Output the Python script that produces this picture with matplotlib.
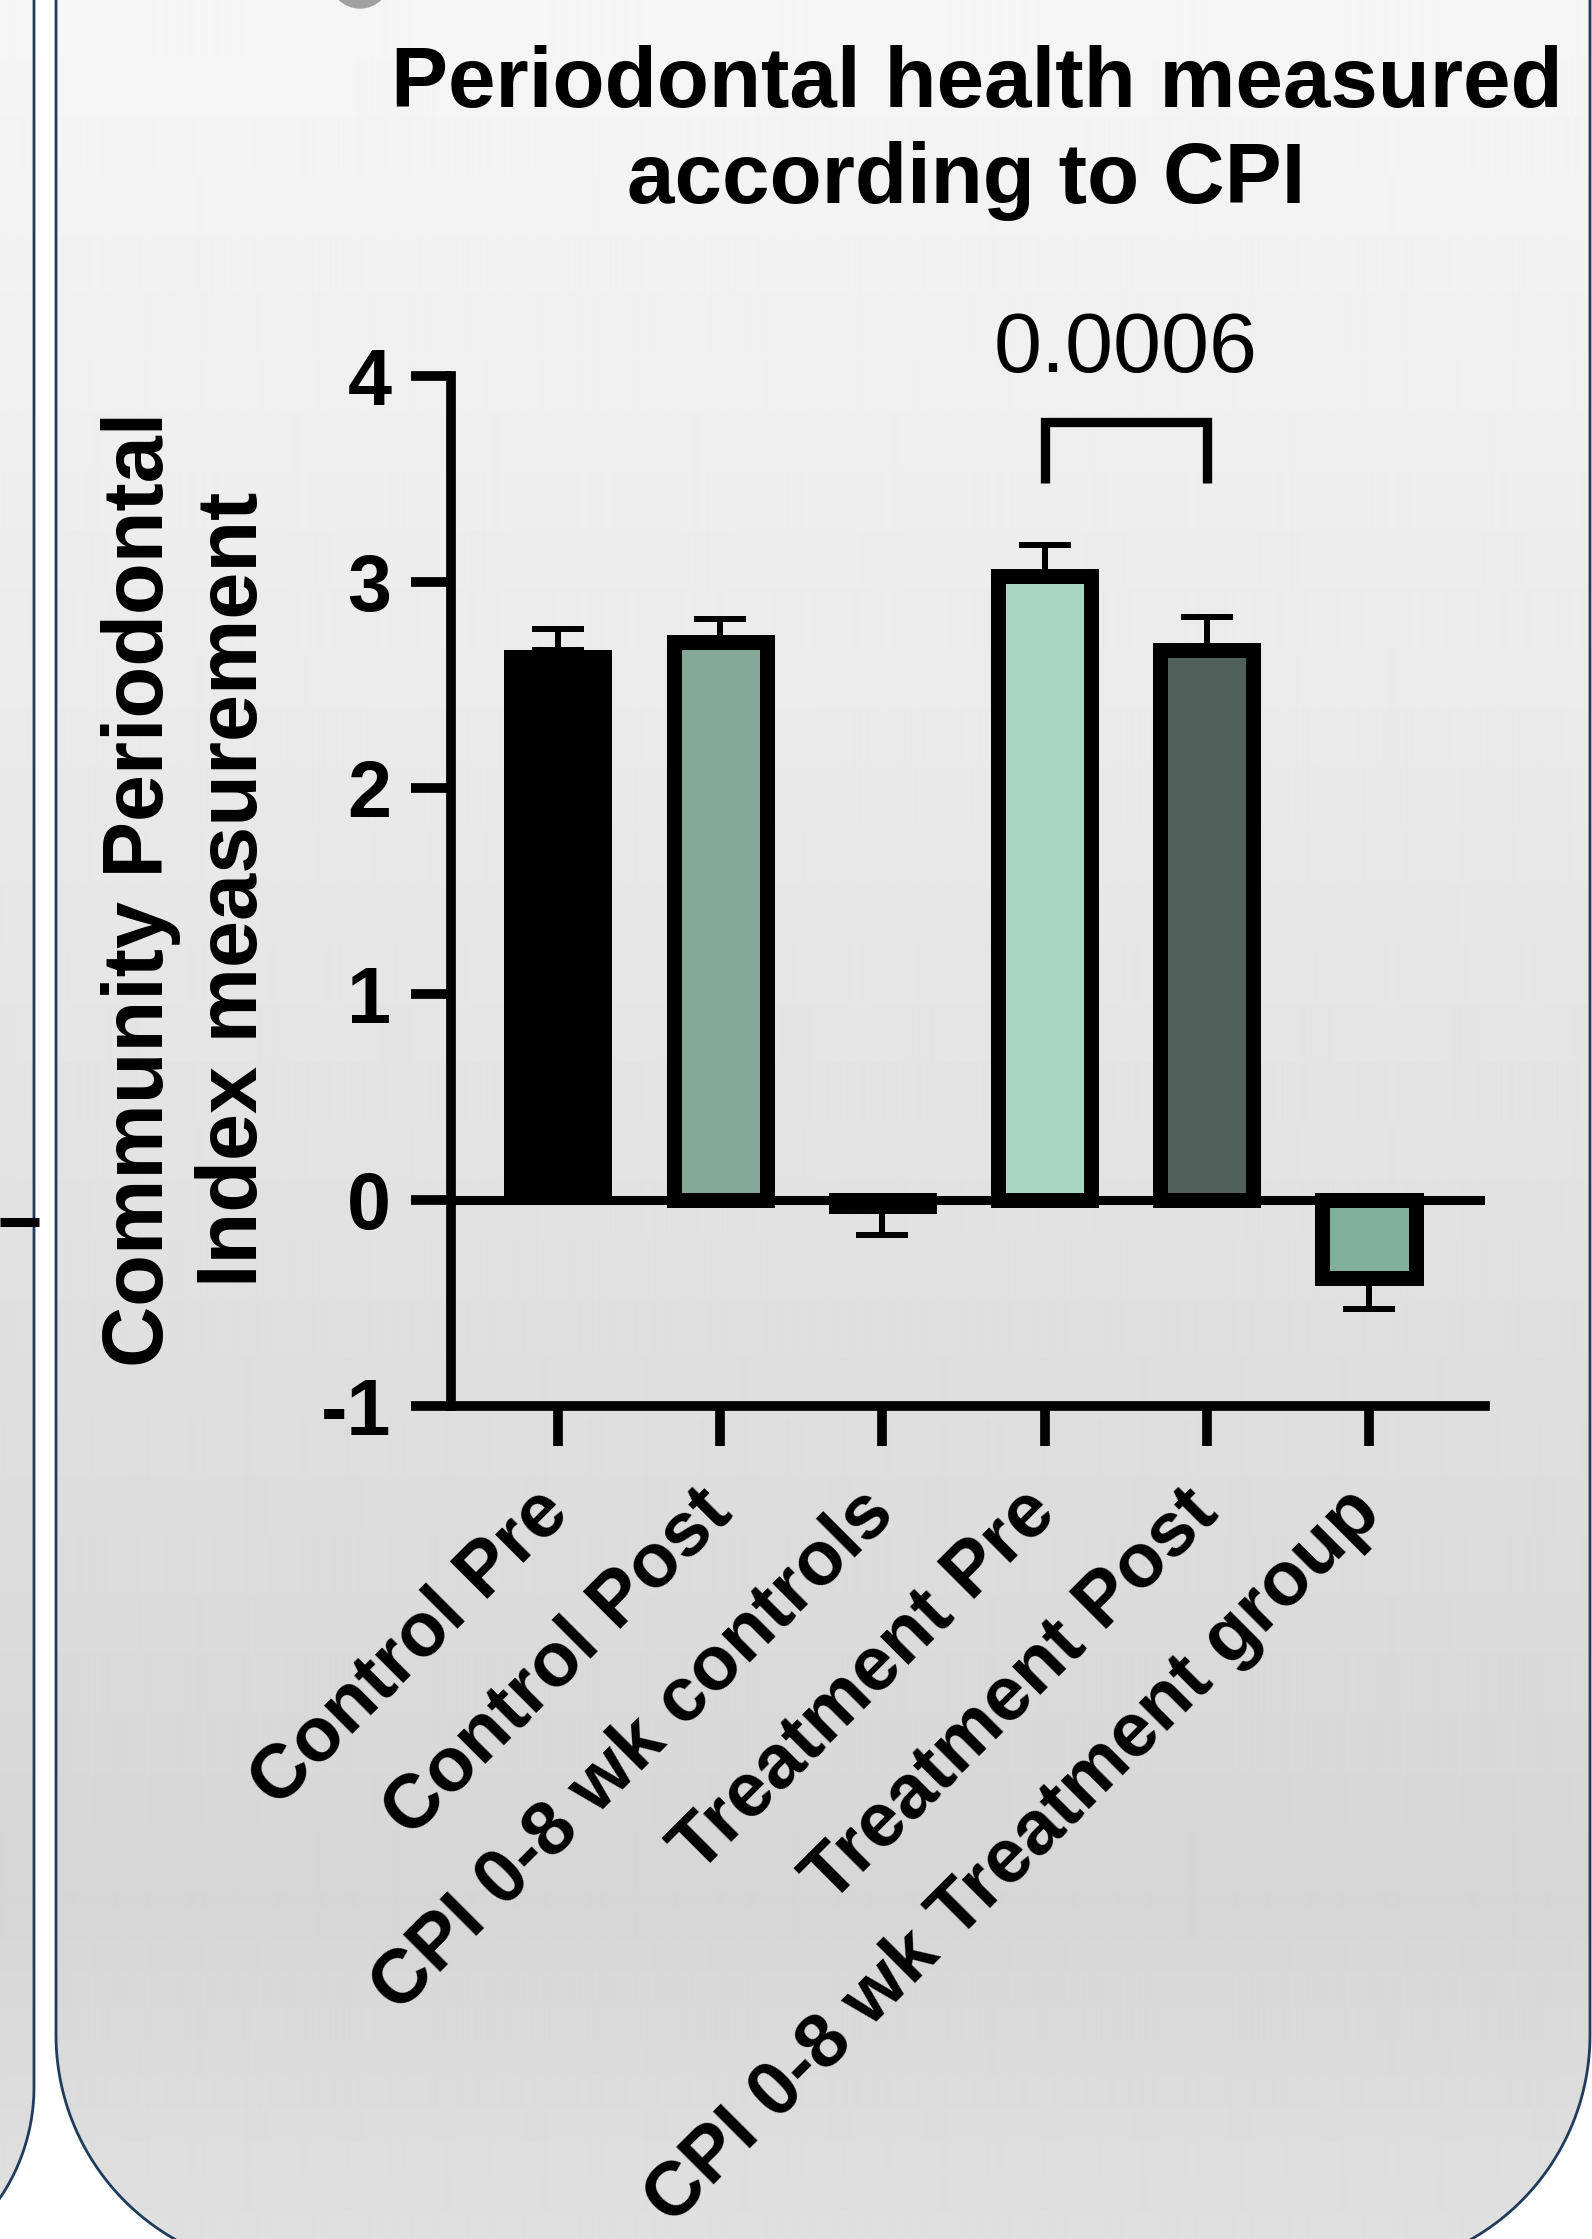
import matplotlib.pyplot as plt
import numpy as np
from matplotlib.patches import Polygon, Circle

plt.rcParams['font.family'] = ['Liberation Sans', 'DejaVu Sans']
plt.rcParams['axes.unicode_minus'] = False

# data
groups = ['Control Pre', 'Control Post', 'CPI 0-8 wk controls',
          'Treatment Pre', 'Treatment Post', 'CPI 0-8 wk Treatment group']
means = [2.67, 2.71, -0.03, 3.03, 2.67, -0.38]
sems = [0.10, 0.11, 0.14, 0.15, 0.16, 0.15]
fills = ['#000000', '#85a797', '#000000', '#a9d6c2', '#4e6059', '#80b09c']
p_label = '0.0006'
p_pair = (3, 4)
y_ticks = [-1, 0, 1, 2, 3, 4]

W, H = 1592, 2239
fig = plt.figure(figsize=(W / 100, H / 100), dpi=100)
fig.patch.set_facecolor('white')


def panel_outline(x0, x1, y_top, y_bot, r):
    # box with rounded bottom corners (pixel coords, y down)
    t = np.linspace(0, np.pi / 2, 60)
    left = np.column_stack([x0 + r - r * np.cos(t), y_bot - r + r * np.sin(t)])
    right = np.column_stack([x1 - r + r * np.sin(t), y_bot - r + r * np.cos(t)])
    return np.vstack([[x0, y_top], left, right, [x1, y_top]])


# background panels with grey gradient
bg = fig.add_axes([0, 0, 1, 1], zorder=-10)
bg.set_xlim(0, W)
bg.set_ylim(H, 0)
bg.axis('off')
rows = np.arange(H)
shade = np.interp(rows, [0, 1900, H], [246, 214, 224]) / 255.0
grad = np.repeat(shade[:, None], 4, axis=1)

edge_col = '#203c5c'
left_panel = Polygon(panel_outline(-400, 34, -50, 2285, 198), closed=True,
                     fc='none', ec=edge_col, lw=2)
main_panel = Polygon(panel_outline(56, 1590, -50, 2270, 235), closed=True,
                     fc='none', ec=edge_col, lw=2)
for p in (left_panel, main_panel):
    bg.add_patch(p)
    im = bg.imshow(grad, extent=[0, W, H, 0], cmap='gray', vmin=0, vmax=1,
                   aspect='auto', interpolation='bilinear')
    im.set_clip_path(p)
bg.plot([0, 39], [1222, 1222], color='black', lw=6.5, solid_capstyle='butt')
bg.add_patch(Circle((360, -22), 30, color='#a0a0a0'))

# main chart
ax = fig.add_axes([451 / W, 1 - 1406 / H, (1485 - 451) / W, (1406 - 376) / H])
ax.patch.set_alpha(0)
x = np.arange(len(groups))

lower = [s if m < 0 else 0 for m, s in zip(means, sems)]
upper = [s if m >= 0 else 0 for m, s in zip(means, sems)]
ax.errorbar(x, means, yerr=[lower, upper], fmt='none', ecolor='black',
            elinewidth=4.3, capsize=19, capthick=4.3, zorder=2)
widths = [0.667, 0.574, 0.574, 0.574, 0.574, 0.574]
edges = [0, 10.8, 10.8, 10.8, 10.8, 10.8]
ax.bar(x, means, width=widths, color=fills, edgecolor='black', linewidth=edges,
       zorder=3)
ax.axhline(0, color='black', lw=6.5, zorder=4)

ax.set_xlim(-0.66, 5.715)
ax.set_ylim(-1, 4)
ax.set_yticks(y_ticks)
ax.set_xticks(x)
ax.set_xticklabels(groups, rotation=45, ha='right', va='center',
                   rotation_mode='anchor', fontsize=55, fontweight='bold')
for lab in ax.get_yticklabels():
    lab.set_fontweight('bold')
ax.tick_params(axis='y', labelsize=57, length=29, width=7, pad=14)
ax.tick_params(axis='x', length=29, width=7, pad=40)
for s in ('top', 'right'):
    ax.spines[s].set_visible(False)
for s in ('left', 'bottom'):
    ax.spines[s].set_linewidth(7)

# significance bracket
xa, xb = p_pair
ax.plot([xa, xa, xb, xb], [3.48, 3.775, 3.775, 3.48], color='black', lw=6.7,
        clip_on=False, solid_joinstyle='miter', solid_capstyle='butt')
ax.text((xa + xb) / 2, 4.02, p_label, ha='center', va='baseline', fontsize=62,
        clip_on=False)

fig.text(0.6137, 1 - 107 / H, 'Periodontal health measured', ha='center',
         va='baseline', fontsize=61.5, fontweight='bold')
fig.text(0.6067, 1 - 203 / H, 'according to CPI', ha='center',
         va='baseline', fontsize=61.5, fontweight='bold')
fig.text(188 / W, 1 - 889 / H, 'Community Periodontal\nIndex measurement',
         rotation=90, ha='center', va='center', multialignment='center',
         fontsize=61, fontweight='bold', linespacing=1.22)

fig.savefig('out.png', dpi=100, facecolor='white')
